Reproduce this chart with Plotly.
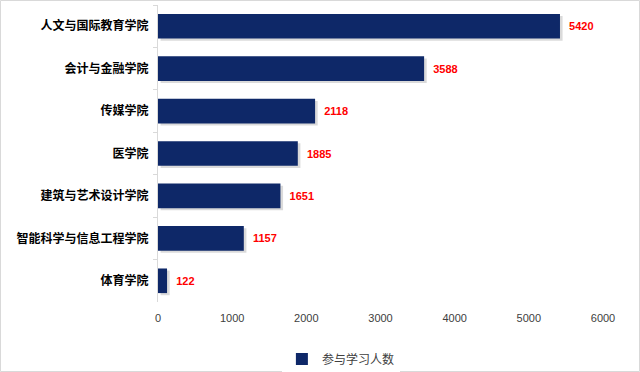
import plotly.graph_objects as go

categories = ["人文与国际教育学院", "会计与金融学院", "传媒学院", "医学院",
              "建筑与艺术设计学院", "智能科学与信息工程学院", "体育学院"]
values = [5420, 3588, 2118, 1885, 1651, 1157, 122]
series_name = "参与学习人数"
x_ticks = [0, 1000, 2000, 3000, 4000, 5000, 6000]

fig = go.Figure()
# soft shadow
fig.add_trace(go.Bar(
    y=categories, x=values, orientation="h", base=35, offset=-0.29 + 0.05, width=0.58,
    marker=dict(color="rgba(150,150,150,0.35)", line=dict(width=0)),
    showlegend=False, hoverinfo="skip"))
fig.add_trace(go.Bar(
    y=categories, x=values, orientation="h", name=series_name, offset=-0.29, width=0.58,
    marker=dict(color="#0e2868", line=dict(width=0)),
    text=values, texttemplate="  %{x}", textposition="outside", cliponaxis=False,
    textfont=dict(family="Liberation Sans", size=11, color="#ff0000", weight="bold")))

fig.update_layout(
    width=640, height=372, barmode="overlay",
    margin=dict(l=158, r=37, t=5, b=70, autoexpand=False),
    paper_bgcolor="white", plot_bgcolor="white",
    font=dict(family="Noto Sans CJK SC", color="#404040"),
    xaxis=dict(range=[0, 6000], tickvals=x_ticks, showgrid=False, zeroline=False,
               showline=False, tickfont=dict(family="Liberation Sans", size=11, color="#404040"),
               ticks="", automargin=False, ticklabelstandoff=8),
    yaxis=dict(autorange="reversed", showline=True, linecolor="#d9d9d9", linewidth=1,
               ticks="outside", ticklen=4, tickcolor="#d9d9d9", tickson="boundaries",
               tickfont=dict(family="Noto Sans CJK SC", size=12, color="#000000", weight="bold"),
               ticklabelstandoff=6, showgrid=False, automargin=False),
    legend=dict(orientation="h", x=0.411, xanchor="center", y=-0.192, yanchor="middle",
                font=dict(family="Noto Sans CJK SC", size=12, color="#404040"),
                itemwidth=30),
    shapes=[dict(type="rect", xref="paper", yref="paper", x0=-157.5/445, x1=1 + 36.5/445,
                 y0=-69.5/297, y1=1 + 4.5/297, line=dict(color="#d9d9d9", width=1))],
)
fig.write_html("out.html", config={"displayModeBar": False},
               post_script="document.body.style.margin='0';")
